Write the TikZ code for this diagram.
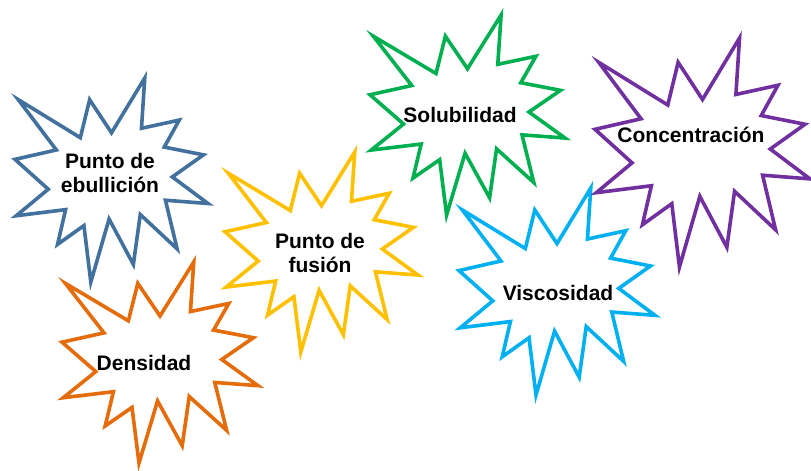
\documentclass[tikz,border=0pt]{standalone}
\usepackage{fontspec}
\setmainfont{Liberation Sans}
\usepackage{xcolor}
\usepackage{tikz}
\usetikzlibrary{positioning}

\definecolor{sealblue}{HTML}{41719C}
\definecolor{sealorange}{HTML}{E46C0A}
\definecolor{sealyellow}{HTML}{FFC000}
\definecolor{sealgreen}{HTML}{00B050}
\definecolor{sealcyan}{HTML}{00B0F0}
\definecolor{sealpurple}{HTML}{7030A0}

% outline of one explosion, in a 216 x 216 box
\newcommand{\sealpath}{(108,58) -- (145.22,0) -- (141.55,53.25) -- (183.8,44.57) -- (167.02,73.15)
  -- (210.97,81.37) -- (176.07,104.75) -- (216,132.9) -- (168.37,129.42) -- (181.45,180.95)
  -- (140.2,144.57) -- (132.47,197.37) -- (105.32,149.35) -- (84.85,216) -- (77.15,156.27)
  -- (47.62,176.17) -- (56.67,139.37) -- (1.35,145.87) -- (37.22,117.75) -- (0,86.15)
  -- (46.27,76.17) -- (3.7,22.95) -- (73.12,63.2) -- (83.52,22.95) -- cycle}

\begin{document}
\begin{tikzpicture}[x=1pt,y=-1pt,
  seal/.style={line width=3.6pt,fill=white,line join=miter},
  lbl/.style={font=\fontsize{21}{24}\selectfont\bfseries,align=center,inner sep=0pt}]
  \useasboundingbox (0,0) rectangle (811,471);
  \foreach \c/\x/\y/\w/\h in {sealblue/15/78/193/204,sealorange/62/262/196/201,
      sealyellow/225/152/193/200,sealgreen/370/15/195/200,
      sealcyan/459/188/196/207,sealpurple/595/38/215/229}
    \draw[seal,draw=\c,shift={(\x,\y)},xscale=\w/216,yscale=\h/216] \sealpath;
  \node[lbl] (ebullicion) at (110,173) {Punto de\\ebullición};
  \node[lbl] (densidad) at (144,363) {Densidad};
  \node[lbl] (fusion) at (320,253) {Punto de\\fusión};
  \node[lbl] (solubilidad) at (460,115) {Solubilidad};
  \node[lbl] (viscosidad) at (558,292.5) {Viscosidad};
  \node[lbl] (concentracion) at (691,135) {Concentración};
\end{tikzpicture}
\end{document}
